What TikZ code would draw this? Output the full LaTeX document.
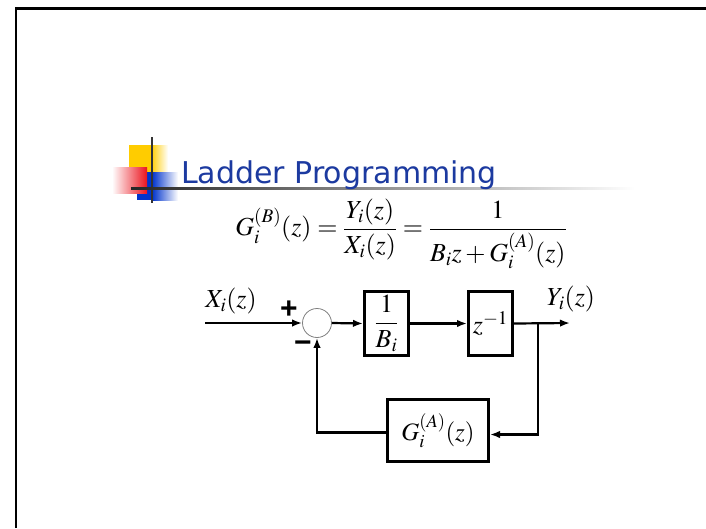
\documentclass[tikz,border=0pt]{standalone}
\usepackage{mathptmx}
\usepackage{fontspec}
\setmainfont{Liberation Serif}
\newfontfamily\titlefont{DejaVu Sans}
\newfontfamily\signfont{Liberation Sans}
\usetikzlibrary{arrows.meta}
\definecolor{titleblue}{RGB}{28,58,160}
\definecolor{logoyellow}{RGB}{255,204,0}
\definecolor{logoblue}{RGB}{0,51,204}
\definecolor{logored}{RGB}{235,20,30}
\begin{document}
\begin{tikzpicture}[x=1pt,y=-1pt,
  arr/.style={-{Latex[length=10pt,width=7.5pt]}, line width=2.2pt},
  blk/.style={draw, line width=3pt, inner sep=0pt},
  lbl/.style={font=\fontsize{26}{30}\selectfont},
  sign/.style={font=\fontsize{30}{34}\selectfont\signfont\bfseries, inner sep=0pt}]
\useasboundingbox (0,0) rectangle (706,528);
\fill[white] (0,0) rectangle (706,528);
% frame
\draw[line width=2.5pt] (16,528) -- (16,8.5) -- (706,8.5);
% logo
\fill[logoyellow] (129,145) rectangle (151,172);
\shade[left color=logoyellow, right color=white] (151,145) rectangle (168,172);
\fill[logoblue] (137,172) rectangle (152,200);
\shade[left color=logoblue, right color=white] (152,172) rectangle (178,200);
\shade[left color=white, right color=logored] (112,167) rectangle (147,193);
\draw[line width=2.5pt, black!80] (152,137) -- (152,203);
\shade[left color=black!85, middle color=black!45, right color=white] (131,187) rectangle (635,189.5);
% title
\node[anchor=base west, inner sep=0pt, text=titleblue, font=\fontsize{30}{36}\selectfont\titlefont] (title) at (181,183) {Ladder Programming};
% equation
\node[font=\fontsize{26}{30}\selectfont] (eq) at (401,234) {$\displaystyle G_i^{(B)}(z)=\frac{Y_i(z)}{X_i(z)}=\frac{1}{B_iz+G_i^{(A)}(z)}$};
% block diagram
\node[circle, draw=gray, line width=0.8pt, minimum size=29pt, inner sep=0pt] (sum) at (317,323) {};
\node[blk, minimum width=44pt, minimum height=64pt, lbl] (b1) at (386.5,323.5) {$\displaystyle\frac{1}{B_i}$};
\node[blk, minimum width=44pt, minimum height=64pt, lbl] (b2) at (490.5,323.5) {$z^{-1}$};
\node[blk, minimum width=101pt, minimum height=62pt, font=\fontsize{25}{29}\selectfont] (g) at (438,430.5) {$G_i^{(A)}(z)$};
\coordinate (xin) at (205,323);
\coordinate (yout) at (570,323);
\coordinate (br) at (538,323);
\draw[arr] (xin) -- (sum.west);
\draw[arr] (sum.east) -- (b1.west);
\draw[arr] (b1.east) -- (b2.west);
\draw[arr] (b2.east) -- (yout);
\draw[arr] (br) |- ([yshift=-4pt]g.east);
\draw[arr] ([yshift=-2pt]g.west) -| (sum.south);
\node[lbl] (xl) at (231,301) {$X_i(z)$};
\node[lbl] (yl) at (571,299) {$Y_i(z)$};
\node[sign] (plus) at (289,310) {+};
\node[sign] (minus) at (303,347) {−};
\end{tikzpicture}
\end{document}
